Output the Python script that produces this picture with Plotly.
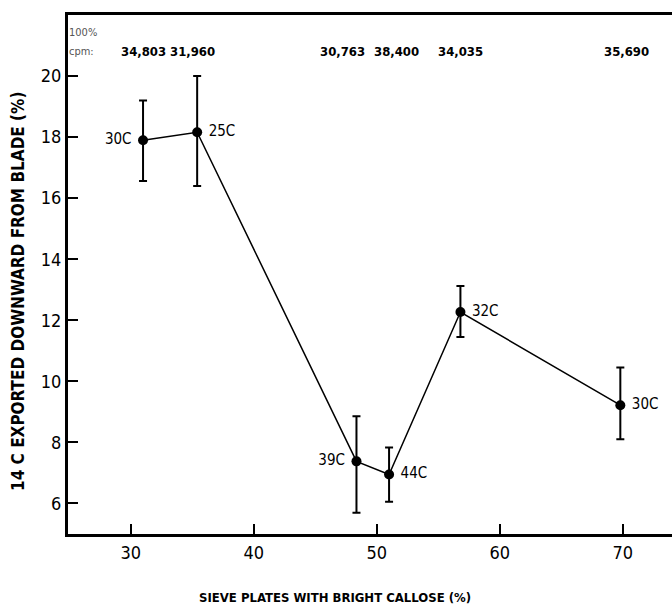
import plotly.graph_objects as go

callose = [31.0, 35.4, 48.35, 51.0, 56.8, 69.8]
exported = [17.9, 18.16, 7.38, 6.95, 12.27, 9.22]
err_plus = [1.3, 1.84, 1.48, 0.88, 0.85, 1.23]
err_minus = [1.34, 1.76, 1.68, 0.89, 0.82, 1.12]
labels = ["30C", "25C", "39C", "44C", "32C", "30C"]
label_pos = ["middle left", "middle right", "middle left", "middle right", "middle right", "middle right"]
cpm = ["34,803", "31,960", "30,763", "38,400", "34,035", "35,690"]
cpm_x = [31.0, 35.0, 47.2, 51.6, 56.8, 70.3]
x_ticks = [30, 40, 50, 60, 70]
y_ticks = [6, 8, 10, 12, 14, 16, 18, 20]

FONT = "Liberation Sans Narrow, Arial Narrow, DejaVu Sans Condensed, sans-serif"
TFONT = "DejaVu Sans Condensed, sans-serif"

fig = go.Figure()
fig.add_trace(go.Scatter(
    x=callose, y=exported, mode="lines+markers+text",
    text=[" " + t + " " for t in labels], textposition=label_pos,
    textfont=dict(family=TFONT, size=15, color="black"),
    line=dict(color="black", width=1.5),
    marker=dict(color="black", size=10),
    error_y=dict(type="data", symmetric=False, array=err_plus, arrayminus=err_minus,
                 color="black", thickness=2, width=4),
    showlegend=False, cliponaxis=False, hoverinfo="skip",
))

annotations = []
for xv, t in zip(cpm_x, cpm):
    annotations.append(dict(x=xv, y=(534 - 52) / 519, xref="x", yref="paper",
                            yanchor="middle",
                            text="<b>" + t + "</b>", showarrow=False,
                            font=dict(family=TFONT, size=13, color="black")))
annotations.append(dict(x=-0.002, y=(534 - 33) / 519, xref="paper", yref="paper",
                        text="100%", showarrow=False, xanchor="left", yanchor="middle",
                        font=dict(family=FONT, size=11, color="#555")))
annotations.append(dict(x=-0.002, y=(534 - 52) / 519, xref="paper", yref="paper",
                        text="cpm:", showarrow=False, xanchor="left", yanchor="middle",
                        font=dict(family=FONT, size=11, color="#555")))
annotations.append(dict(x=(18 - 68) / 604, y=(534 - 292) / 519, xref="paper", yref="paper",
                        text="<b>14 C EXPORTED DOWNWARD FROM BLADE (%)</b>", showarrow=False,
                        textangle=-90, yanchor="middle", xanchor="center",
                        font=dict(family=TFONT, size=17, color="black")))
annotations.append(dict(x=(335 - 68) / 604, y=-(597 - 534) / 519, xref="paper", yref="paper",
                        text="<b>SIEVE PLATES WITH BRIGHT CALLOSE (%)</b>", showarrow=False,
                        yanchor="middle",
                        font=dict(family=TFONT, size=13, color="black")))

fig.update_layout(
    width=672, height=607,
    margin=dict(l=68, r=0, t=15, b=73),
    paper_bgcolor="white", plot_bgcolor="white",
    annotations=annotations,
    xaxis=dict(range=[24.9, 74.0], tickvals=x_ticks, ticks="inside", ticklen=10, tickwidth=2,
               tickcolor="black", showline=True, linecolor="black", linewidth=3, mirror=True,
               showgrid=False, zeroline=False,
               tickfont=dict(family=FONT, size=18, color="black")),
    yaxis=dict(range=[5.0, 22.0], tickvals=y_ticks, ticks="inside", ticklen=10, tickwidth=2,
               tickcolor="black", showline=True, linecolor="black", linewidth=3,
               showgrid=False, zeroline=False,
               tickfont=dict(family=FONT, size=18, color="black")),
)

fig.write_html("out.html", config={"displayModeBar": False},
               post_script="document.body.style.margin='0';document.body.style.overflow='hidden';")
